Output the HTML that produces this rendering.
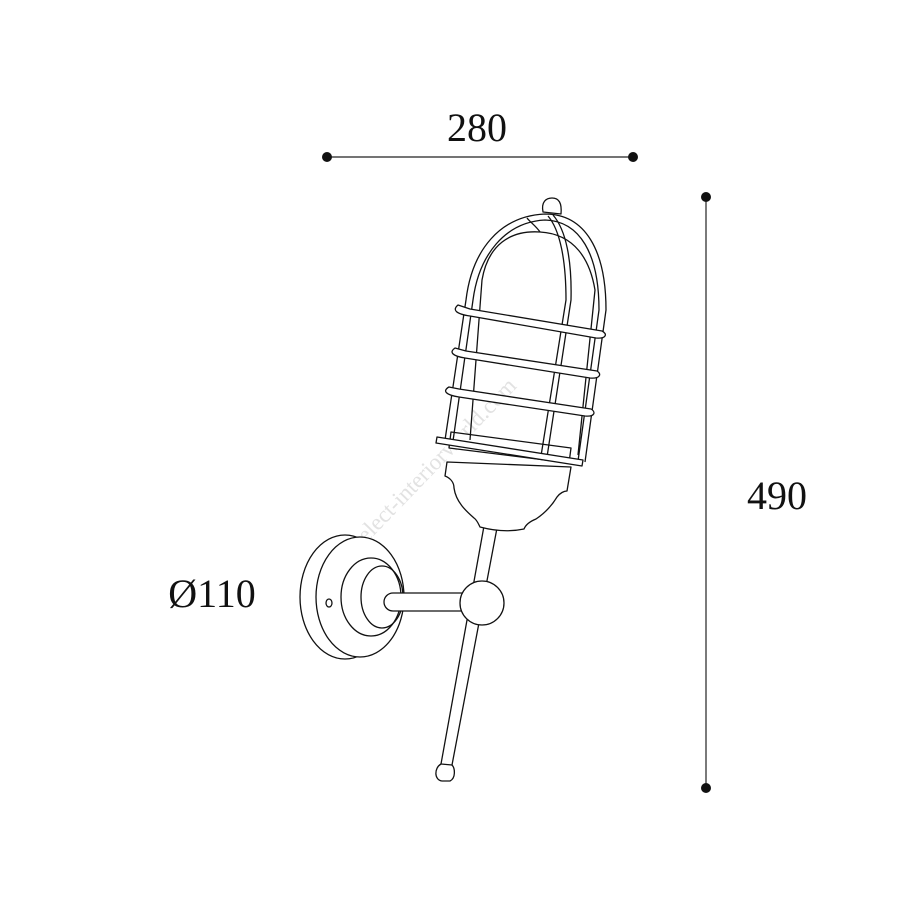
<!DOCTYPE html>
<html><head><style>
html,body{margin:0;padding:0;background:#fff;}
svg{display:block}
text{font-family:"Liberation Serif",serif;fill:#111}
</style></head><body>
<svg width="900" height="900" viewBox="0 0 900 900" xmlns="http://www.w3.org/2000/svg">
<rect width="900" height="900" fill="#fff"/>
<line x1="327" y1="157" x2="633" y2="157" stroke="#222" stroke-width="1.2"/>
<circle cx="327" cy="157" r="5" fill="#111"/><circle cx="633" cy="157" r="5" fill="#111"/>
<line x1="706" y1="197" x2="706" y2="788" stroke="#222" stroke-width="1.2"/>
<circle cx="706" cy="197" r="5" fill="#111"/><circle cx="706" cy="788" r="5" fill="#111"/>
<text x="477" y="141" font-size="40" text-anchor="middle">280</text>
<text x="777" y="509" font-size="40" text-anchor="middle">490</text>
<text x="212" y="607" font-size="40" text-anchor="middle">Ø110</text>
<text x="0" y="0" font-size="23" font-family="Liberation Sans,sans-serif" style="fill:#e2e2e2" transform="translate(360,550) rotate(-46)">select-interiorworld.com</text>
<g fill="none" stroke="#111" stroke-width="1.3" stroke-linejoin="round">
<ellipse cx="345" cy="597" rx="45" ry="62" fill="#fff"/>
<ellipse cx="360" cy="597" rx="44" ry="60" fill="#fff"/>
<ellipse cx="371" cy="597" rx="30" ry="39"/>
<ellipse cx="382" cy="597" rx="21" ry="31"/>
<ellipse cx="329" cy="603" rx="3" ry="4"/>
<path d="M470 593 L393 593 A9 9 0 0 0 393 611 L470 611" fill="#fff"/>
<path d="M484 526 L497 528 L452 765 L441 764 Z" fill="#fff"/>
<path d="M441 764 C434 768 434 780 442 781 L450 781 C456 778 455 768 452 765"/>
<circle cx="482" cy="603" r="22" fill="#fff"/>
<path d="M447 462 L445 476 C450 478 454 482 454 488 C456 502 466 511 474 518 C477 520 478 523 480 527 C495 531 510 532 524 529 C526 524 531 521 536 519 C548 511 554 502 557 497 C560 493 564 491 567 491 L571 467 Z" fill="#fff"/>
<path d="M451 432 L571 448 L569 463 L449 448 Z" fill="#fff"/>
<path d="M470 440 L482 280 C488 245 510 230 540 232 C575 234 590 260 595 290 L578 455" />
<path d="M445 440 L466 300 C472 250 500 216 545 214 C585 214 606 250 606 310 L585 462"/>
<path d="M453 441 L473 300 C479 255 505 222 545 220 C580 221 599 254 599 310 L578 461"/>
<path d="M548 216 C560 230 566 260 566 300 L541 456"/>
<path d="M553 215 C566 230 572 260 571 300 L547 457"/>
<path d="M540 232 C536 226 530 222 527 218"/>
<path d="M543 212 C541 202 546 198 552 198 C559 198 562 203 561 214 Z" fill="#fff"/>
<path d="M458 305 C452 310 456 314 470 316 L596 338 C606 339 608 334 602 331 L470 309 Z" fill="#fff"/>
<path d="M455 348 C449 352 452 356 465 358 L590 378 C600 379 602 374 597 371 L466 351 Z" fill="#fff"/>
<path d="M449 387 C442 391 446 395 459 397 L585 416 C595 417 596 412 591 409 L459 389 Z" fill="#fff"/>
<path d="M437 437 L583 460 L582 466 L436 443 Z" fill="#fff"/>
</g>
</svg>
</body></html>
